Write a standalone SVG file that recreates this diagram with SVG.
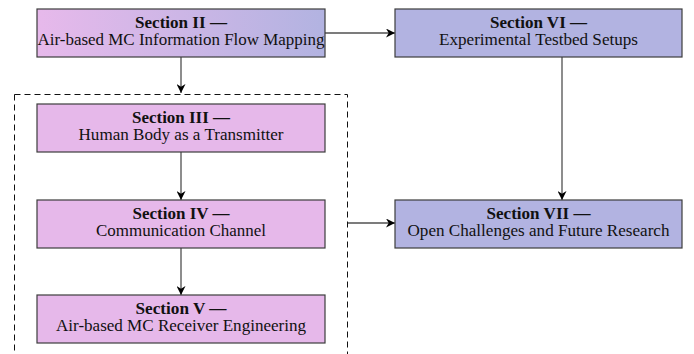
<svg xmlns="http://www.w3.org/2000/svg" width="694" height="354" viewBox="0 0 694 354">
<defs>
<linearGradient id="g2" x1="0" y1="0" x2="1" y2="0">
<stop offset="0" stop-color="#e7b9eb"/>
<stop offset="1" stop-color="#b2b3e1"/>
</linearGradient>
<marker id="ah" viewBox="0 0 10 10" refX="10" refY="5" markerWidth="10" markerHeight="9" markerUnits="userSpaceOnUse" orient="auto">
<path d="M0,0 L10,5 L0,10 L3,5 z" fill="#000"/>
</marker>
<style>
.box{stroke:#3c3c3c;stroke-width:1.2}
.pink{fill:#e6b8ea}
.blue{fill:#b2b3e1}
text{font-family:'Liberation Serif','Times New Roman',serif;font-size:16px;fill:#111;text-anchor:middle}
.b{font-weight:bold}
.c{fill:none;stroke:#505050;stroke-width:1.3;marker-end:url(#ah)}
.grp{fill:none;stroke:#111;stroke-width:1;stroke-dasharray:6 4}
</style>
</defs>
<rect class="grp" x="14.5" y="94.5" width="333" height="270"/>
<g id="connectors">
<path class="c" d="M181,57 L181,93"/>
<path class="c" d="M325,33 L395,33"/>
<path class="c" d="M181,152 L181,200"/>
<path class="c" d="M181,248 L181,295"/>
<path class="c" d="M562,57 L562,200"/>
<path class="c" d="M348,223 L395,223"/>
</g>
<g id="s2">
<rect class="box" x="37" y="9" width="288" height="48" fill="url(#g2)"/>
<text class="b" x="181" y="27.5" textLength="92" lengthAdjust="spacingAndGlyphs">Section II —</text>
<text x="181" y="45" textLength="287" lengthAdjust="spacingAndGlyphs">Air-based MC Information Flow Mapping</text>
</g>
<g id="s6">
<rect class="box blue" x="395" y="9" width="287" height="48"/>
<text class="b" x="538.5" y="27.5" textLength="97" lengthAdjust="spacingAndGlyphs">Section VI —</text>
<text x="538.5" y="45" textLength="199" lengthAdjust="spacingAndGlyphs">Experimental Testbed Setups</text>
</g>
<g id="s3">
<rect class="box pink" x="37" y="104" width="288" height="48"/>
<text class="b" x="181" y="122.5" textLength="98" lengthAdjust="spacingAndGlyphs">Section III —</text>
<text x="181" y="140" textLength="205" lengthAdjust="spacingAndGlyphs">Human Body as a Transmitter</text>
</g>
<g id="s4">
<rect class="box pink" x="37" y="200" width="288" height="48"/>
<text class="b" x="181" y="218.5" textLength="97" lengthAdjust="spacingAndGlyphs">Section IV —</text>
<text x="181" y="236" textLength="170" lengthAdjust="spacingAndGlyphs">Communication Channel</text>
</g>
<g id="s5">
<rect class="box pink" x="37" y="295" width="288" height="48"/>
<text class="b" x="181" y="313.5" textLength="91" lengthAdjust="spacingAndGlyphs">Section V —</text>
<text x="181" y="331" textLength="250" lengthAdjust="spacingAndGlyphs">Air-based MC Receiver Engineering</text>
</g>
<g id="s7">
<rect class="box blue" x="395" y="200" width="287" height="48"/>
<text class="b" x="538.5" y="218.5" textLength="104" lengthAdjust="spacingAndGlyphs">Section VII —</text>
<text x="538.5" y="236" textLength="262" lengthAdjust="spacingAndGlyphs">Open Challenges and Future Research</text>
</g>
</svg>
